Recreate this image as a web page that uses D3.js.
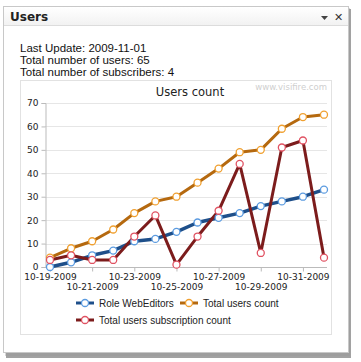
<!DOCTYPE html>
<html>
<head>
<meta charset="utf-8">
<script src="https://cdn.jsdelivr.net/npm/d3@7"></script>
<style>
html,body{margin:0;padding:0;background:#fff;}
svg{display:block;}
</style>
</head>
<body>
<svg id="c" width="361" height="362"></svg>
<script>
const dates = ["10-19-2009","10-20-2009","10-21-2009","10-22-2009","10-23-2009","10-24-2009","10-25-2009","10-26-2009","10-27-2009","10-28-2009","10-29-2009","10-30-2009","10-31-2009","11-01-2009"];
const roleWebEditors = [0,2,5,7,11,12,15,19,21,23,26,28,30,33];
const totalUsers = [4,8,11,16,23,28,30,36,42,49,50,59,64,65];
const subscriptions = [3,5,3,3,13,22,1,13,24,44,6,51,54,4];
const yTicks = [0,10,20,30,40,50,60,70];
const xTickLabels = ["10-19-2009","10-21-2009","10-23-2009","10-25-2009","10-27-2009","10-29-2009","10-31-2009"];
const headerLines = ["Last Update: 2009-11-01","Total number of users: 65","Total number of subscribers: 4"];
const series = [
  {name:"Role WebEditors", values: roleWebEditors, line:"#1e4f8a", marker:"#5b9be0", width:3.5},
  {name:"Total users count", values: totalUsers, line:"#b5690f", marker:"#f0a030", width:3},
  {name:"Total users subscription count", values: subscriptions, line:"#7c1c1c", marker:"#e05262", width:3}
];

const svg = d3.select("#c");
// panel shadow
svg.append("rect").attr("x",6).attr("y",9).attr("width",345).attr("height",349).attr("fill","#555").attr("opacity",0.55);
svg.append("rect").attr("x",5).attr("y",8).attr("width",345).attr("height",348).attr("fill","#999").attr("opacity",0.4);
// panel
svg.append("rect").attr("x",3.5).attr("y",6.5).attr("width",345).attr("height",346).attr("fill","#fff").attr("stroke","#c8c8c8");
// title bar
const grad = svg.append("defs").append("linearGradient").attr("id","tb").attr("x1",0).attr("y1",0).attr("x2",0).attr("y2",1);
grad.append("stop").attr("offset","0").attr("stop-color","#ffffff");
grad.append("stop").attr("offset","1").attr("stop-color","#f2f2f2");
svg.append("rect").attr("x",4).attr("y",7).attr("width",344).attr("height",18).attr("fill","url(#tb)");
svg.append("line").attr("x1",4).attr("x2",348).attr("y1",25.5).attr("y2",25.5).attr("stroke","#dcdcdc");
svg.append("text").attr("x",10).attr("y",21).attr("font-family","DejaVu Sans, Verdana, sans-serif").attr("font-weight","bold").attr("font-size",12).attr("fill","#222").text("Users");
// icons
svg.append("path").attr("d","M321,16 L328,16 L324.5,20 Z").attr("fill","#444");
svg.append("text").attr("x",334).attr("y",21).attr("font-family","DejaVu Sans, sans-serif").attr("font-weight","bold").attr("font-size",11).attr("fill","#333").text("\u2715");

// header text
headerLines.forEach((t,i)=>{
  svg.append("text").attr("x",20).attr("y",52+i*12).attr("font-family","Liberation Sans, Arial, sans-serif").attr("font-size",11.5).attr("fill","#111").text(t);
});

// chart box
svg.append("rect").attr("x",20.5).attr("y",80.5).attr("width",311).attr("height",254).attr("fill","#fff").attr("stroke","#e2e2e2");
svg.append("text").attr("x",190).attr("y",96).attr("text-anchor","middle").attr("font-family","DejaVu Sans, Verdana, sans-serif").attr("font-size",11.5).attr("fill","#222").text("Users count");
svg.append("text").attr("x",327).attr("y",90).attr("text-anchor","end").attr("font-family","DejaVu Sans, Verdana, sans-serif").attr("font-size",8.5).attr("fill","#cfcfcf").text("www.visifire.com");

const x = d3.scalePoint().domain(dates).range([50,324]);
const y = d3.scaleLinear().domain([0,70]).range([267,103]);

const g = svg.append("g");
// grid
g.selectAll("line.grid").data(yTicks.filter(d=>d>0)).join("line")
  .attr("x1",45).attr("x2",327).attr("y1",d=>Math.round(y(d))+0.5).attr("y2",d=>Math.round(y(d))+0.5)
  .attr("stroke","#e6e6e6");
// y axis
const yAxis = d3.axisLeft(y).tickValues(yTicks).tickSize(4).tickPadding(3);
const ya = g.append("g").attr("transform","translate(45.5,0)").call(yAxis);
ya.select(".domain").attr("stroke","#bbb");
ya.selectAll(".tick line").attr("stroke","#bbb");
ya.selectAll("text").attr("font-family","DejaVu Sans, Verdana, sans-serif").attr("font-size",9).attr("fill","#222");
// x axis
const xAxis = d3.axisBottom(x).tickValues(xTickLabels).tickSize(4).tickPadding(2).tickSizeOuter(0);
const xa = g.append("g").attr("transform","translate(0,267.5)").call(xAxis);
xa.select(".domain").attr("stroke","#bbb").attr("d","M45,0H327");
xa.selectAll(".tick line").attr("stroke","#bbb");
xa.selectAll("text").attr("font-family","DejaVu Sans, Verdana, sans-serif").attr("font-size",9).attr("fill","#222")
  .attr("dy",(d,i)=> i%2===0 ? "0.71em" : "1.85em");

// series
const line = d3.line().x((d,i)=>x(dates[i])).y(d=>y(d));
series.forEach(s=>{
  g.append("path").datum(s.values).attr("d",line).attr("fill","none").attr("stroke",s.line).attr("stroke-width",s.width).attr("stroke-linejoin","round");
});
series.forEach(s=>{
  g.selectAll(null).data(s.values).join("circle").attr("cx",(d,i)=>x(dates[i])).attr("cy",d=>y(d)).attr("r",3.5)
    .attr("fill","#fff").attr("stroke",s.marker).attr("stroke-width",1.3);
});

// legend
const legendPos = [[76,303],[180,303],[76,320]];
series.forEach((s,i)=>{
  const [lx,ly] = legendPos[i];
  const lg = svg.append("g").attr("transform",`translate(${lx},${ly})`);
  lg.append("line").attr("x1",0).attr("x2",18).attr("y1",0).attr("y2",0).attr("stroke",s.line).attr("stroke-width",3);
  lg.append("circle").attr("cx",9).attr("cy",0).attr("r",3.5).attr("fill","#fff").attr("stroke",s.marker).attr("stroke-width",1.3);
  lg.append("text").attr("x",23).attr("y",4).attr("font-family","Liberation Sans, Arial, sans-serif").attr("font-size",10).attr("fill","#222").text(s.name);
});
</script>
</body>
</html>
